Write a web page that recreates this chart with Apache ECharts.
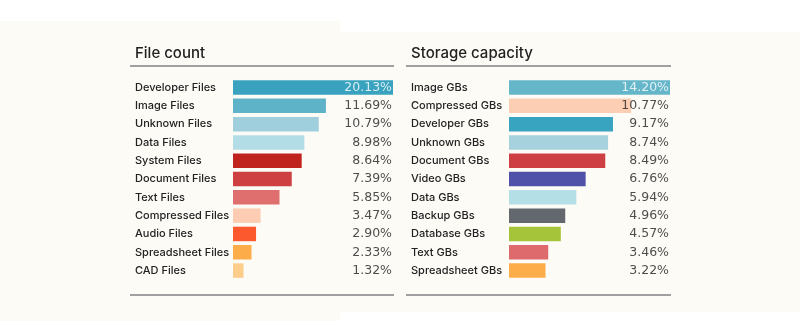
<!DOCTYPE html>
<html>
<head>
<meta charset="utf-8">
<script src="https://cdn.jsdelivr.net/npm/echarts@6/dist/echarts.min.js"></script>
<style>
html,body{margin:0;padding:0;background:#ffffff;}
#chart{width:800px;height:334px;}
</style>
</head>
<body>
<div id="chart"></div>
<script>
// ---- data ----
var fileCategories = ["Developer Files","Image Files","Unknown Files","Data Files","System Files","Document Files","Text Files","Compressed Files","Audio Files","Spreadsheet Files","CAD Files"];
var fileValues = [20.13,11.69,10.79,8.98,8.64,7.39,5.85,3.47,2.90,2.33,1.32];
var fileColors = ["#39a3bf","#5fb3c8","#9fcfdd","#b3dde6","#c0231e","#cd3f41","#df6f6f","#fccdb3","#fc5a2e","#fdac4a","#fdcd8c"];

var storageCategories = ["Image GBs","Compressed GBs","Developer GBs","Unknown GBs","Document GBs","Video GBs","Data GBs","Backup GBs","Database GBs","Text GBs","Spreadsheet GBs"];
var storageValues = [14.20,10.77,9.17,8.74,8.49,6.76,5.94,4.96,4.57,3.46,3.22];
var storageColors = ["#65b6c9","#fccfb5","#38a4bf","#a6d2de","#cd3f43","#4f52a8","#b5dfe7","#63676e","#a6c43a","#df6a6d","#fdae4a"];

var titles = ["File count","Storage capacity"];

// ---- build ----
var FONT = "Inter, 'Noto Sans', sans-serif";
var VFONT = "'DejaVu Sans', Inter, sans-serif";
var chart = echarts.init(document.getElementById('chart'), null, {renderer:'canvas'});

function barData(vals, cols){
  return vals.map(function(v,i){return {value:v, itemStyle:{color:cols[i]}};});
}
function labelData(vals, cats, max){
  return vals.map(function(v,i){
    return {value:[max, cats[i]], label:{color: i===0 ? '#ffffff' : '#222222'}};
  });
}

var panels = [
  {cats:fileCategories, vals:fileValues, cols:fileColors, left:233, width:160, max:20.13},
  {cats:storageCategories, vals:storageValues, cols:storageColors, left:509, width:161, max:14.20}
];

var grids=[], xAxes=[], yAxes=[], series=[];
panels.forEach(function(p, k){
  grids.push({left:p.left, width:p.width, top:78.4, height:201.3, containLabel:false});
  xAxes.push({type:'value', gridIndex:k, min:0, max:p.max, show:false});
  yAxes.push({type:'category', gridIndex:k, data:p.cats, inverse:true,
    axisLine:{show:false}, axisTick:{show:false}, splitLine:{show:false},
    axisLabel:{align:'left', margin:98, color:'#222222', fontFamily:FONT, fontSize:11, fontWeight:500}});
  series.push({type:'bar', xAxisIndex:k, yAxisIndex:k, data:barData(p.vals,p.cols),
    barWidth:14.5, silent:true, animation:false});
  series.push({type:'scatter', xAxisIndex:k, yAxisIndex:k, symbolSize:0, silent:true, animation:false,
    data:labelData(p.vals,p.cats,p.max),
    label:{show:true, position:'left', distance:1, fontFamily:VFONT, fontSize:12.5, fontWeight:400,
      formatter:function(d){return p.vals[d.dataIndex].toFixed(2)+'%';}}});
});

var graphics = [
  {type:'rect', shape:{x:0,y:21,width:340,height:300}, style:{fill:'#fdfbf6'}, z:-10, silent:true},
  {type:'rect', shape:{x:340,y:32,width:460,height:280}, style:{fill:'#fdfbf6'}, z:-10, silent:true},
  {type:'text', left:135, top:46, style:{text:titles[0], fill:'#222222', font:'500 15px '+FONT}},
  {type:'text', left:411, top:46, style:{text:titles[1], fill:'#222222', font:'500 15px '+FONT}},
  {type:'line', shape:{x1:130,y1:66,x2:394,y2:66}, style:{stroke:'#a0a0a0', lineWidth:2}},
  {type:'line', shape:{x1:406,y1:66,x2:671,y2:66}, style:{stroke:'#a0a0a0', lineWidth:2}},
  {type:'line', shape:{x1:130,y1:295,x2:394,y2:295}, style:{stroke:'#a0a0a0', lineWidth:2}},
  {type:'line', shape:{x1:406,y1:295,x2:671,y2:295}, style:{stroke:'#a0a0a0', lineWidth:2}}
];

chart.setOption({
  animation:false,
  backgroundColor:'#ffffff',
  grid:grids, xAxis:xAxes, yAxis:yAxes, series:series, graphic:graphics
});
</script>
</body>
</html>
